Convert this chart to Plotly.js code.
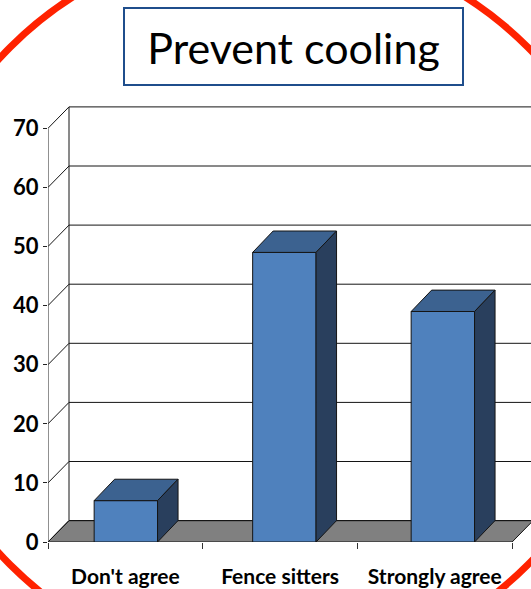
<!DOCTYPE html>
<html>
<head>
<meta charset="utf-8">
<script src="https://cdn.plot.ly/plotly-3.0.1.min.js"></script>
<style>
  html, body { margin: 0; padding: 0; background: #ffffff; }
  #chart { width: 531px; height: 589px; }
</style>
</head>
<body>
<div id="chart"></div>
<script>
// Survey answers
const categories = ["Don't agree", "Fence sitters", "Strongly agree"];
const values = [7, 49, 39];
const yTicks = [0, 10, 20, 30, 40, 50, 60, 70];
const chartTitle = 'Prevent cooling';

// Figure geometry (pixels)
const W = 531, H = 589;
const M = { l: 48, r: 0, t: 100, b: 47 };
const PW = W - M.l - M.r, PH = H - M.t - M.b;

// Axis scales
const catPx = 154.7;            // pixels per category on the floor axis
const barPx = 158.5;            // pixels per category on the bar axis
const yPx = 5.91;               // pixels per value unit
const xRange = [-0.5, -0.5 + PW / catPx];
const barStart = -(125.85 - M.l) / barPx;
const x2Range = [barStart, barStart + PW / barPx];
const yRange = [0, PH / yPx];

// 3-D depth offset
const dxCat = 21 / catPx;
const dxBar = 20.5 / barPx;
const dy = 21.4 / yPx;
const barWidth = 0.4;

const yMax = yTicks[yTicks.length - 1];
const lastCat = categories.length - 0.5;
const edge = '#141414';

const shapes = [];

// floor
shapes.push({
  type: 'path', xref: 'x', yref: 'y', layer: 'below',
  path: `M ${-0.5},0 L ${lastCat},0 L ${lastCat + dxCat},${dy} L ${-0.5 + dxCat},${dy} Z`,
  fillcolor: '#808080', line: { color: edge, width: 1 }
});

// back-wall gridlines and their diagonal links to the front axis
yTicks.forEach(v => {
  shapes.push({
    type: 'line', xref: 'x', yref: 'y', layer: 'below',
    x0: -0.5, y0: v, x1: -0.5 + dxCat, y1: v + dy,
    line: { color: edge, width: 1 }
  });
  shapes.push({
    type: 'line', xref: 'x', yref: 'y', layer: 'below',
    x0: -0.5 + dxCat, y0: v + dy, x1: xRange[1] + 1, y1: v + dy,
    line: { color: edge, width: 1 }
  });
});

// back-wall left edge and front value axis
shapes.push({
  type: 'line', xref: 'x', yref: 'y', layer: 'below',
  x0: -0.5 + dxCat, y0: dy, x1: -0.5 + dxCat, y1: yMax + dy,
  line: { color: edge, width: 1 }
});
shapes.push({
  type: 'line', xref: 'x', yref: 'y', layer: 'above',
  x0: -0.5, y0: 0, x1: -0.5, y1: yMax,
  line: { color: '#222222', width: 1 }
});

// top and side faces of each column
values.forEach((v, i) => {
  const L = i - barWidth / 2, R = i + barWidth / 2;
  shapes.push({
    type: 'path', xref: 'x2', yref: 'y', layer: 'above',
    path: `M ${L},${v} L ${R},${v} L ${R + dxBar},${v + dy} L ${L + dxBar},${v + dy} Z`,
    fillcolor: '#3C6290', line: { color: edge, width: 1 }
  });
  shapes.push({
    type: 'path', xref: 'x2', yref: 'y', layer: 'above',
    path: `M ${R},0 L ${R},${v} L ${R + dxBar},${v + dy} L ${R + dxBar},${dy} Z`,
    fillcolor: '#293F5D', line: { color: edge, width: 1 }
  });
});

// helpers for paper coordinates from pixel positions
const px = p => (p - M.l) / PW;
const py = p => (H - M.b - p) / PH;

// title frame
shapes.push({
  type: 'rect', xref: 'paper', yref: 'paper', layer: 'above',
  x0: px(124), x1: px(463), y0: py(85), y1: py(8),
  fillcolor: 'rgba(0,0,0,0)', line: { color: '#1F4E8C', width: 2 }
});

// red ring
const cx = 269, cy = 306, rad = 366;
shapes.push({
  type: 'circle', xref: 'paper', yref: 'paper', layer: 'above',
  x0: px(cx - rad), x1: px(cx + rad), y0: py(cy + rad), y1: py(cy - rad),
  fillcolor: 'rgba(0,0,0,0)', line: { color: '#FF2200', width: 7 }
});

const trace = {
  type: 'bar',
  x: categories.map((c, i) => i),
  y: values,
  xaxis: 'x2', yaxis: 'y',
  width: barWidth,
  marker: { color: '#4F81BD', line: { color: edge, width: 1 } },
  hoverinfo: 'skip',
  showlegend: false
};

const tickFont = { family: 'Lato, sans-serif', size: 22, color: '#000000', weight: 'bold' };

const layout = {
  width: W, height: H,
  margin: M,
  paper_bgcolor: '#ffffff',
  plot_bgcolor: 'rgba(0,0,0,0)',
  showlegend: false,
  title: {
    text: chartTitle,
    font: { family: 'Lato, sans-serif', size: 43, color: '#000000' },
    xref: 'container', yref: 'container',
    x: 293.5 / W, xanchor: 'center',
    y: 1 - 49 / H, yanchor: 'middle'
  },
  xaxis: {
    range: xRange, fixedrange: true,
    tickmode: 'array',
    tickvals: categories.map((c, i) => i),
    ticktext: categories,
    ticks: '',
    tickfont: { family: 'Lato, sans-serif', size: 21, color: '#000000', weight: 'bold' },
    ticklabelstandoff: 20,
    minor: { tick0: 0.5, dtick: 1, ticks: 'outside', ticklen: 6, tickcolor: '#333333', tickwidth: 1, showgrid: false },
    showgrid: false, zeroline: false, showline: false, automargin: false
  },
  xaxis2: {
    range: x2Range, overlaying: 'x', visible: false, fixedrange: true
  },
  yaxis: {
    range: yRange, fixedrange: true,
    tickmode: 'array', tickvals: yTicks,
    ticks: 'outside', ticklen: 4, tickcolor: '#222222', tickwidth: 1,
    tickfont: tickFont,
    showgrid: false, zeroline: false, showline: false, automargin: false
  },
  shapes: shapes
};

Plotly.newPlot('chart', [trace], layout, { displayModeBar: false, staticPlot: true });
</script>
</body>
</html>
